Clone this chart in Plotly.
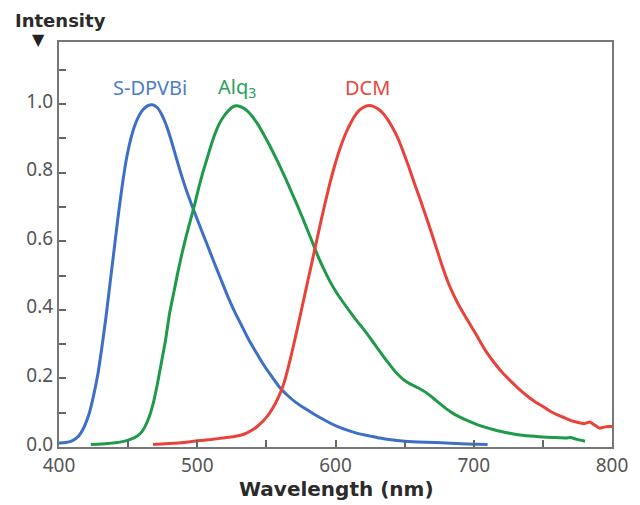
import plotly.graph_objects as go

# ---- data ----
blue_nm = [400, 405, 409, 413, 416, 419, 422, 425, 428, 431, 434, 437, 440, 443, 446, 449, 452, 455,
           458, 461, 464, 467.5, 471, 474, 477, 480, 484, 488, 492, 497, 502, 507, 512, 517, 522,
           527, 532, 537, 542, 548, 554, 560, 566, 572, 578, 584, 590, 596, 602, 608, 614, 620,
           626, 632, 640, 650, 665, 680, 695, 710]
blue_val = [0.012, 0.013, 0.017, 0.027, 0.042, 0.066, 0.10, 0.15, 0.21, 0.29, 0.38, 0.48, 0.58,
            0.68, 0.77, 0.845, 0.90, 0.94, 0.967, 0.985, 0.995, 0.998, 0.99, 0.972, 0.945, 0.91,
            0.855, 0.80, 0.75, 0.695, 0.643, 0.592, 0.54, 0.49, 0.44, 0.395, 0.355, 0.315, 0.28,
            0.24, 0.205, 0.172, 0.148, 0.128, 0.112, 0.097, 0.083, 0.07, 0.059, 0.05, 0.042,
            0.036, 0.031, 0.026, 0.021, 0.017, 0.014, 0.012, 0.009, 0.007]

green_nm = [423, 435, 445, 450, 455, 459, 462, 465, 468, 471, 474, 477, 480, 483, 486, 489, 492,
            495, 498, 501, 504, 507, 510, 513, 516, 519, 522, 525, 528, 531, 534, 537, 540, 544,
            548, 552, 556, 560, 564, 568, 572, 576, 580, 584, 588, 592, 596, 600, 605, 610, 615,
            620, 625, 630, 635, 640, 645, 650, 655, 660, 665, 670, 675, 680, 685, 690, 696, 702,
            708, 714, 720, 726, 732, 738, 744, 750, 756, 762, 767, 770, 774, 780.5]
green_val = [0.007, 0.01, 0.015, 0.02, 0.028, 0.04, 0.058, 0.085, 0.125, 0.18, 0.245, 0.31, 0.39,
             0.45, 0.51, 0.565, 0.615, 0.66, 0.705, 0.755, 0.80, 0.84, 0.88, 0.915, 0.943, 0.963,
             0.978, 0.99, 0.995, 0.993, 0.987, 0.977, 0.963, 0.94, 0.912, 0.882, 0.85, 0.817,
             0.782, 0.745, 0.708, 0.67, 0.63, 0.59, 0.55, 0.515, 0.483, 0.455, 0.425, 0.397,
             0.37, 0.345, 0.318, 0.29, 0.262, 0.236, 0.212, 0.194, 0.182, 0.172, 0.16, 0.145,
             0.128, 0.112, 0.098, 0.087, 0.076, 0.066, 0.058, 0.051, 0.045, 0.04, 0.036, 0.033,
             0.031, 0.029, 0.028, 0.027, 0.026, 0.028, 0.023, 0.017]

red_nm = [468, 480, 490, 500, 510, 520, 526, 532, 536, 540, 544, 548, 552, 556, 560, 563, 566, 569,
          572, 575, 578, 581, 584, 587, 590, 593, 596, 599, 602, 605, 608, 611, 614, 617, 620, 623,
          626, 629, 632, 635, 638, 641, 644, 647, 650, 653, 657, 661, 665, 669, 673, 677, 681, 685,
          689, 693, 697, 701, 705, 709, 714, 720, 726, 732, 738, 744, 750, 755, 761, 767, 772,
          777, 780, 784, 787, 791, 794, 798, 800]
red_val = [0.007, 0.01, 0.013, 0.018, 0.022, 0.027, 0.03, 0.035, 0.041, 0.05, 0.062, 0.077, 0.097,
           0.123, 0.157, 0.19, 0.235, 0.285, 0.338, 0.393, 0.448, 0.503, 0.558, 0.613, 0.668,
           0.72, 0.77, 0.815, 0.855, 0.89, 0.92, 0.945, 0.966, 0.981, 0.99, 0.995, 0.995, 0.99,
           0.982, 0.97, 0.953, 0.933, 0.91, 0.882, 0.85, 0.817, 0.77, 0.725, 0.678, 0.63, 0.58,
           0.53, 0.485, 0.447, 0.415, 0.387, 0.36, 0.333, 0.305, 0.278, 0.25, 0.22, 0.195, 0.172,
           0.151, 0.133, 0.118, 0.105, 0.093, 0.083, 0.075, 0.07, 0.068, 0.073, 0.065, 0.055,
           0.058, 0.06, 0.06]

series_names = ["S-DPVBi", "Alq<sub>3</sub>", "DCM"]
label_pos_nm = [466, 529, 623.5]
label_pos_val = [1.047, 1.047, 1.047]

x_tickvals = [400, 500, 600, 700, 800]
y_tickvals = [0.0, 0.2, 0.4, 0.6, 0.8, 1.0]
y_ticktext = ["0.0", "0.2", "0.4", "0.6", "0.8", "1.0"]

line_colors = ["#3d6fc4", "#1e9a4a", "#e8423b"]
label_colors = ["#4d7ccb", "#2aa155", "#e8463f"]

fig = go.Figure()
for xs, ys, c, n in zip([blue_nm, green_nm, red_nm], [blue_val, green_val, red_val], line_colors, series_names):
    fig.add_trace(go.Scatter(x=xs, y=ys, mode="lines", name=n,
                             line=dict(color=c, width=3, shape="spline", smoothing=0.5)))

for n, lx, ly, c in zip(series_names, label_pos_nm, label_pos_val, label_colors):
    fig.add_annotation(x=lx, y=ly, xref="x", yref="y", text=n, showarrow=False,
                       font=dict(family="Noto Sans", size=20, color=c), xanchor="center", yanchor="middle")

title_font = dict(family="DejaVu Sans", size=18, color="#2b2b2b")
fig.add_annotation(x=-0.084, y=1.054, xref="paper", yref="paper", text="<b>Intensity</b>", showarrow=False,
                   font=title_font, xanchor="left", yanchor="middle")
fig.add_annotation(x=-0.0376, y=1.005, xref="paper", yref="paper", text="▼", showarrow=False,
                   font=dict(family="DejaVu Sans", size=16, color="#222222"), xanchor="center", yanchor="middle")
fig.add_annotation(x=0.501, y=-0.1037, xref="paper", yref="paper", text="<b>Wavelength (nm)</b>",
                   showarrow=False, font=dict(family="DejaVu Sans", size=20, color="#2b2b2b"),
                   xanchor="center", yanchor="middle")

axis_font = dict(family="Noto Sans", size=19, color="#555555")
tick_style = dict(ticks="inside", ticklen=7, tickwidth=2, tickcolor="#666666")
fig.update_layout(
    width=632, height=497,
    margin=dict(l=51, r=22, t=34, b=58),
    paper_bgcolor="white", plot_bgcolor="white",
    showlegend=False,
    xaxis=dict(range=[400, 800], tickvals=x_tickvals, **tick_style,
               showline=True, linecolor="#777777", linewidth=2, mirror=True,
               showgrid=False, zeroline=False, tickfont=axis_font,
               minor=dict(dtick=50, tick0=400, showgrid=False, **tick_style)),
    yaxis=dict(range=[0, 1.181], tickvals=y_tickvals, ticktext=y_ticktext, **tick_style,
               ticklabelshift=-3,
               showline=True, linecolor="#777777", linewidth=2, mirror=True,
               showgrid=False, zeroline=False, tickfont=axis_font,
               minor=dict(dtick=0.1, tick0=0, showgrid=False, **tick_style)),
)

fig.write_html("out.html")
